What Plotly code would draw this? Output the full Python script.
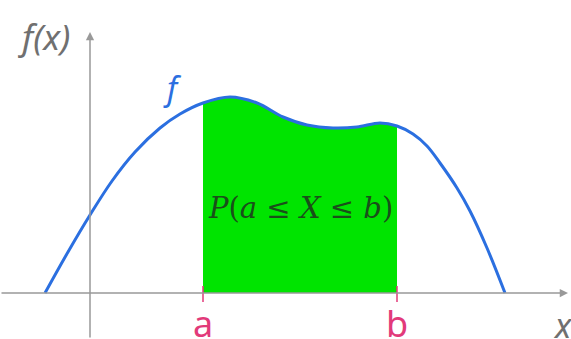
import plotly.graph_objects as go

# curve f(x) (x position, height above the x axis)
curve_x = [45, 68, 90, 112, 135, 160, 180, 203, 230, 257, 283, 307, 333, 357, 380, 397, 413, 427, 440, 457, 470, 487, 505]
curve_y = [0, 41, 78, 112, 141, 165, 179, 190, 196, 190, 176, 168, 165, 166, 170, 167, 159, 147, 130, 105, 82, 45, 0]

# interval limits
a_x = 203
b_x = 397
tick_labels = ["a", "b"]

# shaded part of the curve between a and b
shade_x = [x for x in curve_x if a_x <= x <= b_x]
shade_y = [y for x, y in zip(curve_x, curve_y) if a_x <= x <= b_x]

AXIS_GREY = "#999999"
PINK = "#e23a7a"
BLUE = "#2b6fe0"

fig = go.Figure()

# green area P(a <= X <= b)
fig.add_trace(go.Scatter(
    x=shade_x, y=shade_y, mode="lines", line=dict(shape="spline", width=0, color="#00e400"),
    fill="tozeroy", fillcolor="#00e400", hoverinfo="skip",
))

# the density curve
fig.add_trace(go.Scatter(
    x=curve_x, y=curve_y, mode="lines", line=dict(shape="spline", color=BLUE, width=3),
    hoverinfo="skip",
))

# ticks at a and b
for tx in [a_x, b_x]:
    fig.add_shape(type="line", x0=tx, x1=tx, y0=-9, y1=7, line=dict(color=PINK, width=1.5))

# axes with arrow heads
fig.add_annotation(x=568, y=0, ax=0, ay=0, xref="x", yref="y", axref="x", ayref="y",
                   showarrow=True, arrowhead=2, arrowsize=1.1, arrowwidth=1.5,
                   arrowcolor=AXIS_GREY, text="")
fig.add_annotation(x=90, y=261, ax=90, ay=-46, xref="x", yref="y", axref="x", ayref="y",
                   showarrow=True, arrowhead=2, arrowsize=1.1, arrowwidth=1.5,
                   arrowcolor=AXIS_GREY, text="")

# labels
for tx, lbl in zip([a_x, b_x], tick_labels):
    fig.add_annotation(x=tx, y=-30, text=lbl, showarrow=False,
                       font=dict(family="Noto Sans", size=36, color=PINK))

fig.add_annotation(x=44, y=257, text="<i>f(x)</i>", showarrow=False,
                   font=dict(family="Noto Sans", size=35, color="#707070"))
fig.add_annotation(x=563, y=-32, text="<i>x</i>", showarrow=False,
                   font=dict(family="Noto Sans", size=34, color="#707070"))
fig.add_annotation(x=172, y=206, text="<i>f</i>", showarrow=False,
                   font=dict(family="Noto Sans", size=32, color=BLUE))
fig.add_annotation(x=300, y=85, text="<i>P</i>(<i>a</i> ≤ <i>X</i> ≤ <i>b</i>)", showarrow=False,
                   font=dict(family="DejaVu Serif", size=29, color="#1a4f1a"))

fig.update_layout(
    width=571, height=339,
    margin=dict(l=0, r=0, t=0, b=0),
    paper_bgcolor="white", plot_bgcolor="white",
    showlegend=False,
    xaxis=dict(range=[0, 571], visible=False, fixedrange=True),
    yaxis=dict(range=[-46, 293], visible=False, fixedrange=True),
)

# drop the page margin so the figure sits at the window corner
fig.write_html("out.html", config={"displayModeBar": False},
               post_script="document.body.style.margin = '0';")
